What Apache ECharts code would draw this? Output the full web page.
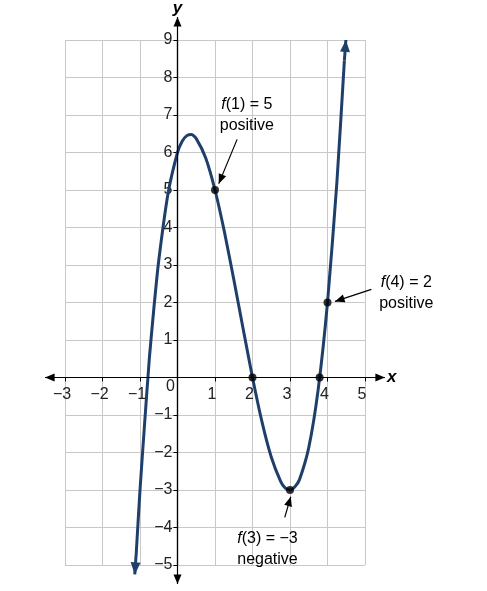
<!DOCTYPE html>
<html>
<head>
<meta charset="utf-8">
<script src="https://cdn.jsdelivr.net/npm/echarts@6/dist/echarts.min.js"></script>
<style>html,body{margin:0;padding:0;background:#fff}#main{width:487px;height:591px}</style>
</head>
<body>
<div id="main"></div>
<script>
// points
var curve = [
  [-1.1, -4.68], [-1, -3], [-0.875, -1.2], [-0.75, 0.52], [-0.625, 1.9], [-0.5, 3.12], [-0.25, 4.92],
  [0, 6], [0.125, 6.3], [0.25, 6.45], [0.375, 6.48], [0.5, 6.37], [0.75, 5.86], [1, 5], [1.25, 3.89], [1.5, 2.62],
  [1.75, 1.3], [2, 0], [2.25, -1.17], [2.5, -2.12], [2.75, -2.77], [2.875, -2.95], [3, -3], [3.125, -2.92], [3.25, -2.73],
  [3.5, -1.87], [3.75, -0.33], [4, 2], [4.25, 5.2], [4.45, 8.45]
];
var xTicks = [-3, -2, -1, 1, 2, 3, 4, 5];
var yTicks = [-5, -4, -3, -2, -1, 1, 2, 3, 4, 5, 6, 7, 8, 9];
var dots = [[1, 5], [2, 0], [3, -3], [4, 2], [3.79, 0]];
var notes = [
  { lines: ['{i|f}(1) = 5', 'positive'], at: [1.85, 7.0], from: [1.59, 6.35], to: [1.1, 5.17] },
  { lines: ['{i|f}(4) = 2', 'positive'], at: [6.1, 2.25], from: [5.17, 2.35], to: [4.2, 2.03] },
  { lines: ['{i|f}(3) = \u22123', 'negative'], at: [2.4, -4.58], from: [2.86, -3.73], to: [3.02, -3.18] }
];
var curveEnds = [[[4.45, 8.45], [4.49, 9.0]], [[-1.1, -4.68], [-1.14, -5.25]]];
var fmt = function (v) { return v < 0 ? '\u2212' + (-v) : '' + v; };
var blue = '#1f3f6b';

var chart = echarts.init(document.getElementById('main'));
var axisBase = {
  type: 'value', interval: 1,
  axisLine: { onZero: true, lineStyle: { color: '#000', width: 1.2 } },
  axisTick: { show: true, length: 4, lineStyle: { color: '#000' } },
  splitLine: { show: true, lineStyle: { color: '#c8c8c8', width: 1 } },
  axisLabel: { show: false }
};

chart.setOption({
  animation: false,
  grid: { left: 65, right: 122, top: 40, bottom: 26 },
  xAxis: Object.assign({}, axisBase, { min: -3, max: 5 }),
  yAxis: Object.assign({}, axisBase, { min: -5, max: 9 }),
  series: [
    { type: 'line', data: curve, smooth: 0.2, showSymbol: false, clip: false,
      lineStyle: { color: blue, width: 3 }, z: 3 },
    { type: 'scatter', data: dots, symbolSize: 8, itemStyle: { color: '#000' }, z: 5 }
  ]
});

function px(p) { return chart.convertToPixel({ gridIndex: 0 }, p); }
var g = [];
var o = px([0, 0]), xl = px([-3, 0]), xr = px([5, 0]), yt = px([0, 9]), yb = px([0, -5]);
function head(x, y, rot, color, s) {
  return { type: 'polygon', x: x, y: y, rotation: rot, z: 10,
    shape: { points: [[0, 0], [-s * 2.4, -s], [-s * 2.4, s]] }, style: { fill: color } };
}
function arrow(a, b, color, w, s) {
  var ang = Math.atan2(-(b[1] - a[1]), b[0] - a[0]);
  g.push({ type: 'line', z: 9, shape: { x1: a[0], y1: a[1], x2: b[0], y2: b[1] }, style: { stroke: color, lineWidth: w } });
  g.push(head(b[0], b[1], ang, color, s));
}
arrow([o[0], o[1]], [xr[0] + 20, o[1]], '#000', 1.2, 4);
arrow([o[0], o[1]], [xl[0] - 20, o[1]], '#000', 1.2, 4);
arrow([o[0], o[1]], [o[0], yt[1] - 23], '#000', 1.2, 4);
arrow([o[0], o[1]], [o[0], yb[1] + 19], '#000', 1.2, 4);
curveEnds.forEach(function (e) { arrow(px(e[0]), px(e[1]), blue, 3, 5); });
notes.forEach(function (n) { arrow(px(n.from), px(n.to), '#000', 1.2, 4); });

var lf = '16px Liberation Sans';
xTicks.forEach(function (v) {
  var p = px([v, 0]);
  g.push({ type: 'text', x: p[0] - 3, y: p[1] + 17, style: { text: fmt(v), font: lf, fill: '#222', align: 'center', verticalAlign: 'middle' } });
});
yTicks.forEach(function (v) {
  var p = px([0, v]);
  g.push({ type: 'text', x: p[0] - 5, y: p[1], style: { text: fmt(v), font: lf, fill: '#222', align: 'right', verticalAlign: 'middle' } });
});
g.push({ type: 'text', x: o[0] - 7, y: o[1] + 9, style: { text: '0', font: lf, fill: '#222', align: 'center', verticalAlign: 'middle' } });
g.push({ type: 'text', x: xr[0] + 22, y: o[1], style: { text: 'x', font: 'italic bold 17px Liberation Sans', fill: '#000', verticalAlign: 'middle' } });
g.push({ type: 'text', x: o[0], y: yt[1] - 32, style: { text: 'y', font: 'italic bold 17px Liberation Sans', fill: '#000', align: 'center', verticalAlign: 'middle' } });
notes.forEach(function (n) {
  var p = px(n.at);
  g.push({ type: 'text', x: p[0], y: p[1], z: 10, style: {
    text: n.lines.join('\n'), align: 'center', verticalAlign: 'middle', lineHeight: 21,
    font: '16px Liberation Sans', fill: '#000',
    rich: { i: { fontStyle: 'italic', fontSize: 16, fontFamily: 'Liberation Sans' } }
  } });
});
chart.setOption({ graphic: g });
</script>
</body>
</html>
